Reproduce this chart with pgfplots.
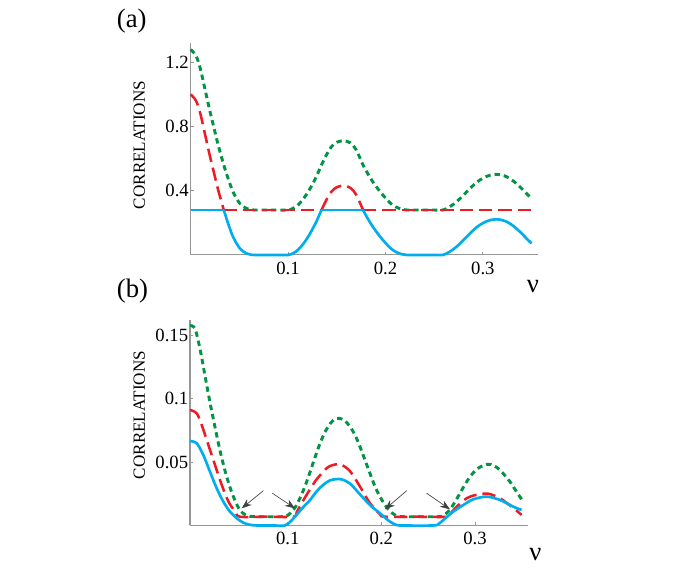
\documentclass[border=0pt]{standalone}
\usepackage{pgfplots}
\pgfplotsset{compat=1.18}
\usepackage{fontspec}
\setmainfont{Liberation Serif}
\usetikzlibrary{arrows.meta}
\definecolor{cblue}{RGB}{0,174,239}
\definecolor{cred}{RGB}{237,28,36}
\definecolor{cgreen}{RGB}{0,148,68}
\definecolor{axgray}{RGB}{150,150,150}
\pgfplotsset{
  myaxis/.style={
    scale only axis,
    axis lines*=left,
    axis line style={axgray, line width=0.8pt},
    tick style={axgray, line width=0.6pt},
    major tick length=2.5pt,
    tick align=inside,
    /pgf/number format/assume math mode=true,
    ticklabel style={font=\fontsize{14}{14}\selectfont},
    yticklabel style={inner sep=1.2pt},
    xticklabel style={yshift=-1.5pt},
    clip=false,
  },
  bl/.style={cblue, line width=2pt},
  rd/.style={cred, line width=1.9pt, dash pattern=on 10pt off 4.5pt},
  gr/.style={cgreen, line width=2.2pt, dash pattern=on 4pt off 3pt},
}
\begin{document}
\begin{tikzpicture}
\path[use as bounding box] (0pt,0pt) rectangle (510.75pt,-426pt);
% ---------------- (a) ----------------
\begin{axis}[myaxis,
  at={(143.0pt,-191.2pt)}, anchor=south west,
  width=260.25pt, height=159pt,
  xmin=0, xmax=0.3563, ymin=0, ymax=1.321,
  xtick={0.1,0.2,0.3}, xticklabels={0.1,0.2,0.3},
  ytick={0.4,0.8,1.2}, yticklabels={0.4,0.8,1.2},
]
\addplot[gr, smooth] coordinates {
(0,1.28) (0.004,1.255) (0.007,1.22) (0.0103,1.152) (0.0137,1.06) (0.017,0.97)
(0.020,0.89) (0.024,0.79) (0.028,0.69) (0.031,0.625) (0.034,0.56) (0.0384,0.477)
(0.0435,0.393) (0.0504,0.321) (0.0572,0.29) (0.062,0.281) (0.070,0.28) (0.080,0.28)
(0.090,0.28) (0.100,0.28) (0.105,0.29) (0.110,0.31) (0.1155,0.348) (0.1206,0.393)
(0.125,0.44) (0.129,0.487) (0.1343,0.56) (0.140,0.63) (0.1446,0.675) (0.150,0.702)
(0.157,0.712) (0.164,0.698) (0.170,0.655) (0.177,0.56) (0.182,0.505) (0.187,0.456)
(0.194,0.398) (0.201,0.348) (0.206,0.318) (0.211,0.298) (0.217,0.284) (0.222,0.28)
(0.235,0.28) (0.250,0.28) (0.259,0.28) (0.266,0.30) (0.273,0.331) (0.280,0.372)
(0.287,0.415) (0.2935,0.452) (0.3005,0.48) (0.307,0.496) (0.3135,0.502) (0.319,0.498)
(0.3245,0.487) (0.331,0.462) (0.338,0.425) (0.344,0.388) (0.350,0.352)};
\addplot[rd, smooth] coordinates {
(0,1.0) (0.004,0.975) (0.007,0.94) (0.0103,0.872) (0.0137,0.78) (0.017,0.69)
(0.020,0.61) (0.024,0.51) (0.028,0.41) (0.031,0.345) (0.034,0.28)};
\addplot[rd] coordinates {(0.034,0.28) (0.1343,0.28)};
\addplot[rd, smooth] coordinates {
(0.1343,0.28) (0.140,0.35) (0.1446,0.395) (0.150,0.422) (0.157,0.432) (0.164,0.418)
(0.170,0.375) (0.177,0.28)};
\addplot[rd] coordinates {(0.177,0.28) (0.35,0.28)};
\addplot[bl] coordinates {(0,0.28) (0.034,0.28)};
\addplot[bl, smooth] coordinates {
(0.034,0.28) (0.0384,0.197) (0.0435,0.113) (0.0504,0.041) (0.0572,0.010) (0.062,0.001)
(0.070,0) (0.080,0) (0.090,0) (0.100,0) (0.105,0.010) (0.110,0.030) (0.1155,0.068)
(0.1206,0.113) (0.125,0.160) (0.129,0.207) (0.1343,0.28)};
\addplot[bl] coordinates {(0.1343,0.28) (0.177,0.28)};
\addplot[bl, smooth] coordinates {
(0.177,0.28) (0.182,0.225) (0.187,0.176) (0.194,0.118) (0.201,0.068) (0.206,0.038)
(0.211,0.018) (0.217,0.004) (0.222,0) (0.235,0) (0.250,0) (0.259,0) (0.266,0.020)
(0.273,0.051) (0.280,0.092) (0.287,0.135) (0.2935,0.172) (0.3005,0.200) (0.307,0.216)
(0.3135,0.222) (0.319,0.218) (0.3245,0.207) (0.331,0.182) (0.338,0.145) (0.344,0.108)
(0.350,0.072)};
\end{axis}
% ---------------- (b) ----------------
\begin{axis}[myaxis,
  at={(142.5pt,-394.1pt)}, anchor=south west,
  width=253.7pt, height=154.1pt,
  xmin=-0.0043, xmax=0.3568, ymin=0, ymax=0.1618,
  xtick={0.1,0.2,0.3}, xticklabels={0.1,0.2,0.3},
  ytick={0.05,0.1,0.15}, yticklabels={0.05,0.1,0.15},
]
\addplot[gr, smooth] coordinates {
(-0.0043,0.1575) (0.001,0.1550) (0.0064,0.1390) (0.0117,0.1180) (0.017,0.0970)
(0.0224,0.0775) (0.0277,0.0590) (0.0331,0.0430) (0.0384,0.0300) (0.0438,0.0195)
(0.0490,0.0120) (0.0545,0.0085) (0.0598,0.0072) (0.070,0.0069) (0.085,0.0069)
(0.0971,0.0071) (0.1025,0.0095) (0.1078,0.0140) (0.1131,0.0215) (0.1185,0.0310)
(0.1238,0.0420) (0.1291,0.0535) (0.1345,0.0647) (0.1398,0.0735) (0.1451,0.0800)
(0.150,0.0835) (0.155,0.0844) (0.161,0.0825) (0.1665,0.0778) (0.172,0.0710)
(0.1772,0.0620) (0.1825,0.0515) (0.1878,0.0411) (0.193,0.0310) (0.1985,0.0227)
(0.204,0.0160) (0.2092,0.0112) (0.2145,0.0083) (0.2199,0.0070) (0.240,0.0069)
(0.2625,0.0070) (0.268,0.0088) (0.2732,0.0125) (0.2785,0.0185) (0.2839,0.0254)
(0.2892,0.0322) (0.2946,0.0384) (0.300,0.0430) (0.3052,0.0460) (0.3141,0.0482)
(0.320,0.0472) (0.3266,0.0437) (0.332,0.0392) (0.3372,0.0345) (0.343,0.0280)
(0.3497,0.0206)};
\addplot[rd, smooth] coordinates {
(-0.0043,0.0910) (0.0029,0.0883) (0.0082,0.0791) (0.0153,0.0634) (0.0224,0.0476)
(0.0296,0.0319) (0.0366,0.0190) (0.0438,0.0110) (0.0491,0.0069) (0.075,0.0069)
(0.106,0.0069) (0.1096,0.0105) (0.116,0.0190) (0.1238,0.0285) (0.1300,0.0355)
(0.1345,0.0395) (0.140,0.0440) (0.145,0.0468) (0.152,0.0482) (0.157,0.0480)
(0.1665,0.0428) (0.1772,0.0306) (0.1878,0.0175) (0.1985,0.0088) (0.2038,0.0069)
(0.24,0.0069) (0.2697,0.0069) (0.275,0.0105) (0.2804,0.0148) (0.291,0.0214)
(0.3017,0.0242) (0.3141,0.0250) (0.3266,0.0214) (0.3391,0.0148) (0.3497,0.0083)};
\addplot[bl, smooth] coordinates {
(-0.0043,0.0665) (0.0029,0.0647) (0.0099,0.0555) (0.017,0.0424) (0.0242,0.0293)
(0.0313,0.0187) (0.0384,0.0109) (0.0456,0.0057) (0.0526,0.0022) (0.060,0.0005)
(0.067,0) (0.075,0) (0.085,0) (0.097,0) (0.1035,0.0035) (0.1096,0.0085)
(0.116,0.0140) (0.1238,0.0200) (0.131,0.0270) (0.138,0.0320) (0.145,0.0355)
(0.1523,0.0365) (0.158,0.0362) (0.1665,0.0330) (0.1772,0.0245) (0.1878,0.0161)
(0.1985,0.0096) (0.2092,0.0030) (0.216,0.0005) (0.222,0) (0.2555,0) (0.2615,0.0015)
(0.2661,0.0043) (0.2767,0.0109) (0.2874,0.0161) (0.2981,0.0206) (0.3124,0.0227)
(0.3266,0.0201) (0.3408,0.0148) (0.3497,0.0122)};
\draw[black!75, line width=0.5pt, -{Stealth[length=7.5pt,width=5.5pt]}] (axis cs:0.074,0.0274) -- (axis cs:0.0509,0.0135);
\draw[black!75, line width=0.5pt, -{Stealth[length=7.5pt,width=5.5pt]}] (axis cs:0.0836,0.0254) -- (axis cs:0.1078,0.0135);
\draw[black!75, line width=0.5pt, -{Stealth[length=7.5pt,width=5.5pt]}] (axis cs:0.227,0.0274) -- (axis cs:0.2038,0.0127);
\draw[black!75, line width=0.5pt, -{Stealth[length=7.5pt,width=5.5pt]}] (axis cs:0.2483,0.0254) -- (axis cs:0.2732,0.0127);
\end{axis}
% labels
\node[font=\fontsize{20}{20}\selectfont] at (98.8pt,-15.75pt) {(a)};
\node[font=\fontsize{20}{20}\selectfont] at (99.4pt,-218.3pt) {(b)};
\node[rotate=90, font=\fontsize{12.8}{12.8}\selectfont] at (104.5pt,-108.75pt) {CORRELATIONS};
\node[rotate=90, font=\fontsize{12.8}{12.8}\selectfont] at (104.5pt,-311.25pt) {CORRELATIONS};
\node[font=\fontsize{20}{20}\selectfont] at (399.75pt,-215.25pt) {ν};
\node[font=\fontsize{20}{20}\selectfont] at (401.6pt,-415.5pt) {ν};
\end{tikzpicture}
\end{document}
